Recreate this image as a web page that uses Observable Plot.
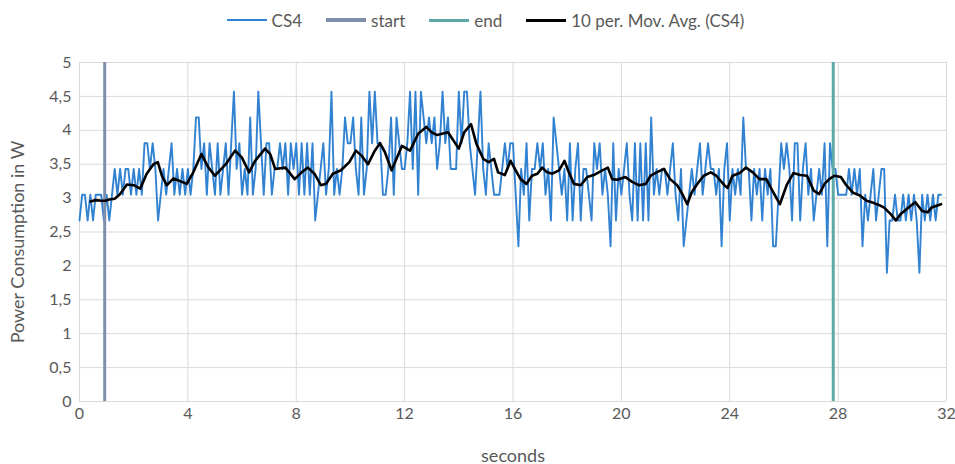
<!DOCTYPE html>
<html><head><meta charset="utf-8">
<script src="https://cdn.jsdelivr.net/npm/d3@7"></script>
<script src="https://cdn.jsdelivr.net/npm/@observablehq/plot@0.6"></script>
<style>
body{margin:0;background:#fff;font-family:Lato,"Open Sans",sans-serif;}
#legend{height:40px;display:flex;justify-content:center;align-items:center;font-size:17px;color:#595959;padding-left:16px;box-sizing:border-box;}
.item{display:flex;align-items:center;margin:0 12px;}
.sw{width:40px;margin-right:5px;}
</style></head><body>
<div id="legend"></div>
<div id="chart"></div>
<script>
// sampling interval of the CS4 measurement (seconds)
const sampleStep = 0.1;
// CS4 power readings (W), one per sample, from t = 0
const cs4 = [
2.67,3.05,3.05,2.67,3.05,2.67,3.05,3.05,3.05,2.67,
3.05,2.67,3.05,3.43,3.05,3.43,3.05,3.43,3.43,3.05,
3.43,3.05,3.43,3.05,3.81,3.81,3.43,3.81,3.43,2.67,
3.05,3.43,3.05,3.43,3.81,3.05,3.43,3.05,3.43,3.05,
3.43,3.05,3.43,4.19,4.19,3.43,3.81,3.05,3.81,3.43,
3.05,3.81,3.05,3.43,3.81,3.05,3.81,4.57,3.43,3.81,
3.05,3.43,3.05,4.19,3.05,3.43,4.57,3.81,3.05,3.81,
3.81,3.05,3.43,3.43,3.81,3.43,3.81,3.05,3.81,3.43,
3.81,3.05,3.81,3.05,3.81,3.05,3.81,2.67,3.05,3.43,
3.81,3.05,3.43,4.57,3.05,3.43,3.05,3.43,4.19,3.81,
3.81,4.19,3.43,3.05,4.19,3.05,3.43,4.57,3.81,4.57,
3.81,3.81,3.05,3.05,3.43,4.19,3.05,4.19,3.81,3.43,
3.43,3.81,4.57,3.43,4.57,3.05,4.57,4.19,3.81,4.19,
3.81,4.19,3.43,3.81,4.57,3.81,4.19,3.43,3.43,3.43,
4.57,3.81,4.57,4.57,3.81,3.43,3.05,3.81,4.57,3.43,
3.05,3.81,3.43,3.05,3.05,3.05,3.43,3.81,3.43,3.81,
3.81,3.05,2.29,3.43,3.05,3.81,2.67,3.43,3.43,3.81,
3.43,3.81,3.05,3.43,2.67,4.19,3.81,3.43,3.05,3.43,
2.67,3.81,2.67,3.43,3.81,2.67,3.43,3.43,3.05,2.67,
3.81,3.43,3.81,3.05,3.43,3.05,2.29,3.81,2.67,3.43,
3.05,3.43,3.81,3.05,2.67,3.81,2.67,3.81,2.67,3.81,
2.67,4.19,3.05,3.43,3.05,3.43,3.43,3.05,3.43,3.81,
3.05,2.67,3.43,2.29,2.67,3.05,3.43,3.05,3.43,3.81,
3.05,3.43,3.81,3.43,3.43,3.05,3.43,2.29,3.43,3.81,
2.67,3.43,3.05,3.43,3.05,4.19,3.43,3.43,2.67,3.43,
3.05,3.43,2.67,3.43,3.05,3.43,2.29,2.29,3.05,3.81,
3.43,3.81,3.43,2.67,3.81,3.81,2.67,3.43,3.81,3.05,
3.43,2.67,3.05,3.43,3.05,3.81,2.29,3.81,3.43,3.43,
3.05,3.05,3.05,3.05,3.43,3.05,3.43,3.05,3.43,2.29,
3.05,2.67,3.05,3.43,2.67,3.05,3.43,3.43,1.90,2.67,
2.67,3.05,2.67,2.67,3.05,2.67,3.05,2.67,3.05,2.67,
1.90,3.05,2.67,3.05,2.67,3.05,2.67,3.05,3.05
];
// 10 per. moving average as drawn (time in s, value in W)
const maTime = [0.4,0.6,0.8,0.95,1.1,1.3,1.5,1.75,2.0,2.24,2.48,2.73,2.89,3.04,3.22,3.47,3.71,3.96,4.2,4.5,4.76,5.0,5.4,5.74,5.99,6.26,6.48,6.85,7.04,7.22,7.6,7.94,8.2,8.43,8.67,8.91,9.1,9.35,9.65,9.96,10.2,10.4,10.65,10.9,11.09,11.27,11.52,11.7,11.9,12.2,12.5,12.8,13.0,13.2,13.6,14.0,14.2,14.45,14.65,14.9,15.1,15.3,15.45,15.7,15.91,16.1,16.28,16.5,16.7,16.9,17.08,17.26,17.45,17.7,17.9,18.06,18.25,18.5,18.74,18.98,19.3,19.5,19.66,19.85,20.15,20.4,20.65,20.9,21.08,21.3,21.57,21.8,22.06,22.25,22.43,22.6,22.86,23.04,23.3,23.5,23.8,23.92,24.1,24.37,24.6,24.85,25.1,25.35,25.6,25.85,26.1,26.35,26.6,26.85,27.1,27.3,27.5,27.67,27.86,28.1,28.3,28.55,28.8,29.05,29.3,29.55,29.7,29.95,30.13,30.3,30.6,30.85,31.1,31.3,31.45,31.8];
const maValue = [2.95,2.97,2.96,2.96,2.98,2.99,3.06,3.2,3.19,3.14,3.36,3.5,3.53,3.33,3.19,3.29,3.25,3.21,3.38,3.65,3.45,3.33,3.5,3.7,3.6,3.38,3.55,3.73,3.65,3.43,3.45,3.28,3.38,3.45,3.36,3.19,3.21,3.36,3.41,3.53,3.7,3.63,3.5,3.7,3.81,3.68,3.41,3.58,3.77,3.7,3.95,4.05,3.97,3.93,3.97,3.73,3.97,4.09,3.8,3.58,3.53,3.58,3.38,3.34,3.55,3.41,3.28,3.21,3.33,3.36,3.45,3.38,3.36,3.41,3.55,3.38,3.21,3.19,3.31,3.34,3.41,3.45,3.28,3.27,3.31,3.24,3.19,3.21,3.33,3.38,3.43,3.28,3.19,3.06,2.91,3.09,3.24,3.33,3.38,3.33,3.19,3.15,3.33,3.37,3.45,3.38,3.28,3.28,3.09,2.91,3.19,3.37,3.34,3.33,3.11,3.06,3.21,3.28,3.33,3.31,3.19,3.08,3.04,2.96,2.93,2.89,2.86,2.76,2.67,2.76,2.86,2.94,2.81,2.79,2.86,2.91];
const startTime = [0.93];
const endTime = [27.82];
const xTicks = [0,4,8,12,16,20,24,28,32];
const yTicks = [0,0.5,1,1.5,2,2.5,3,3.5,4,4.5,5];
const xTitle = ["seconds"];
const yTitle = ["Power Consumption in W"];
const seriesNames = ["CS4","start","end","10 per. Mov. Avg. (CS4)"];
const seriesColors = ["#3282d2","#7f8eab","#5ea8a7","#000000"];
const seriesWidths = [2,4,3,3];

const legend = document.getElementById("legend");
seriesNames.forEach((n,i)=>{
  const it = document.createElement("div"); it.className="item";
  const sw = document.createElement("div"); sw.className="sw";
  sw.style.height = seriesWidths[i]+"px"; sw.style.background = seriesColors[i];
  const tx = document.createElement("span"); tx.textContent = n;
  it.appendChild(sw); it.appendChild(tx); legend.appendChild(it);
});

const data = cs4.map((v,i)=>({t: Math.round(i*sampleStep*100)/100, v}));
const ma = maTime.map((t,i)=>({t, v: maValue[i]}));
const fmt = d => String(d).replace(".", ",");

const chart = Plot.plot({
  width:955, height:424, marginTop:22, marginBottom:63, marginLeft:79, marginRight:9,
  style:{fontFamily:"Lato, 'Open Sans', sans-serif", fontSize:"15px", color:"#595959", background:"#fff", overflow:"visible"},
  x:{domain:[0,32]},
  y:{domain:[0,5]},
  marks:[
    Plot.gridX(xTicks,{stroke:"#d9d9d9", strokeOpacity:1}),
    Plot.gridY(yTicks,{stroke:"#d9d9d9", strokeOpacity:1}),
    Plot.axisX({ticks:xTicks, tickSize:0, tickPadding:6, label:null, fontSize:16}),
    Plot.axisY({ticks:yTicks, tickSize:0, tickPadding:8, tickFormat:fmt, label:null, fontSize:16}),
    Plot.text(xTitle,{frameAnchor:"bottom", dy:60, fontSize:18, fill:"#595959"}),
    Plot.text(yTitle,{frameAnchor:"left", dx:-61, dy:10, rotate:-90, textAnchor:"middle", fontSize:18, fill:"#595959"}),
    Plot.line(data,{x:"t",y:"v",stroke:seriesColors[0],strokeWidth:1.9}),
    Plot.ruleX(startTime,{stroke:seriesColors[1],strokeWidth:3}),
    Plot.ruleX(endTime,{stroke:seriesColors[2],strokeWidth:3}),
    Plot.line(ma,{x:"t",y:"v",stroke:seriesColors[3],strokeWidth:2.6})
  ]
});
document.getElementById("chart").appendChild(chart);
</script>
</body></html>
